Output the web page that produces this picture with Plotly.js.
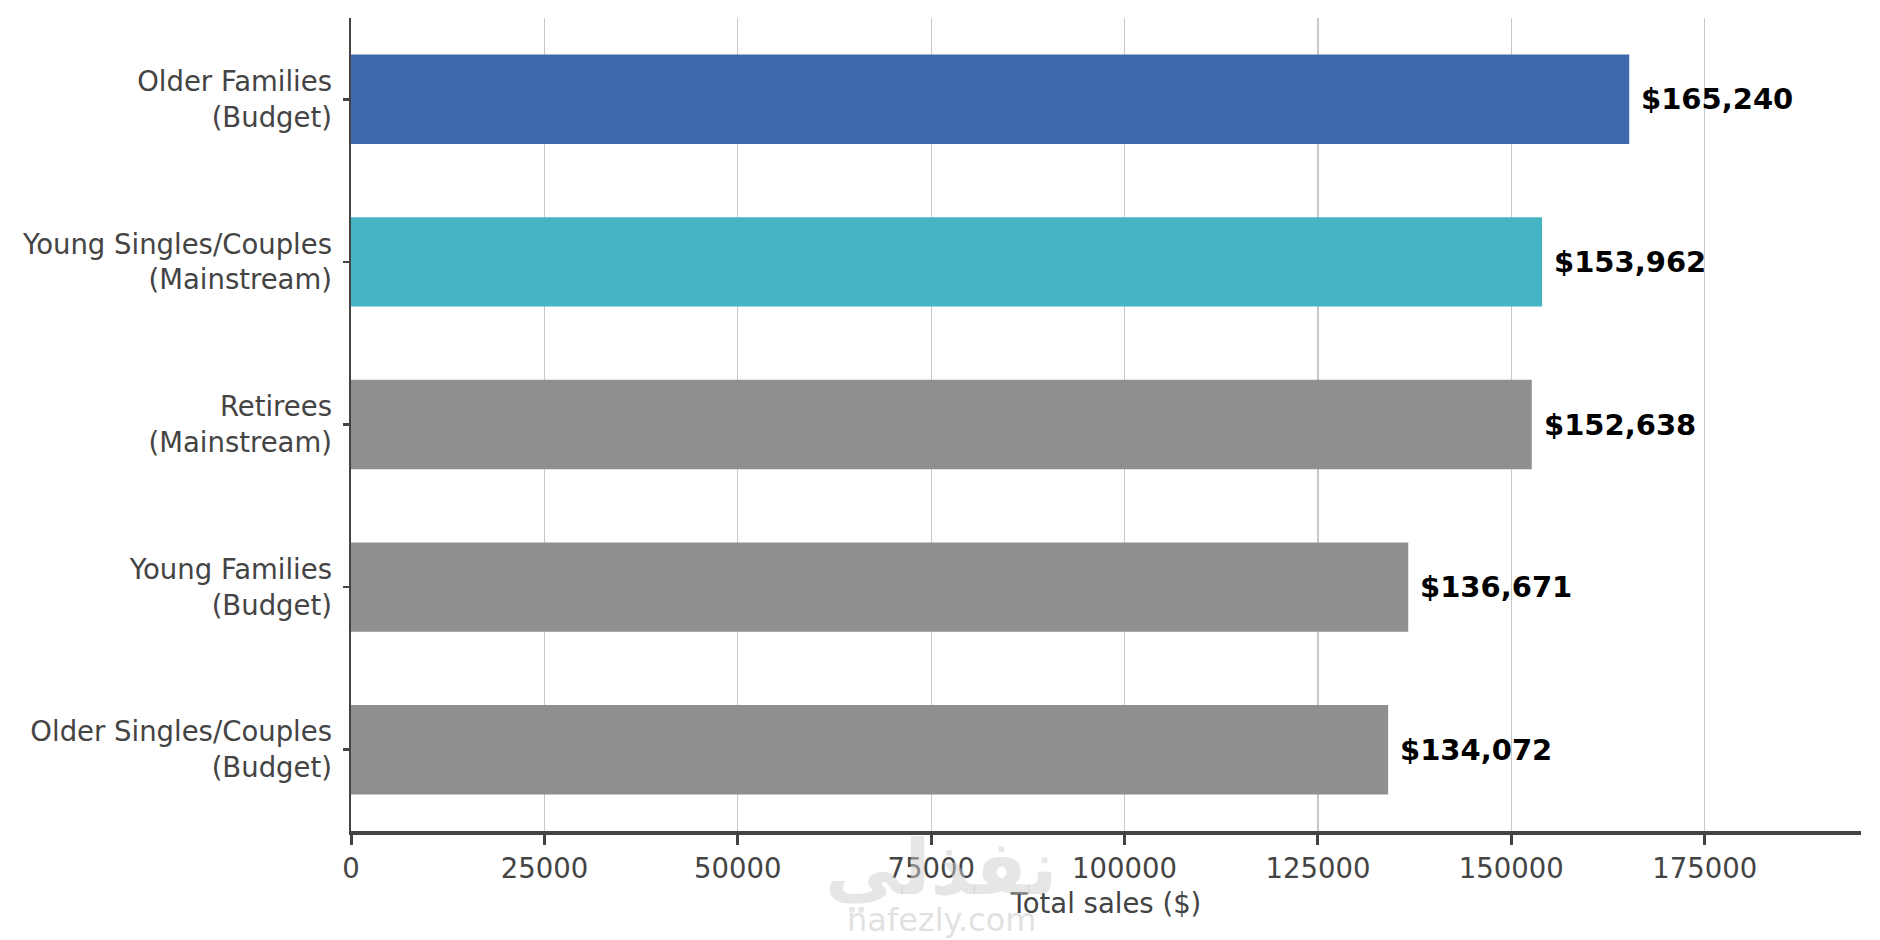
<!DOCTYPE html>
<html>
<head>
<meta charset="utf-8">
<script src="https://cdn.plot.ly/plotly-3.0.1.min.js"></script>
<style>
  html, body { margin: 0; padding: 0; background: #fff; }
  #myDiv { width: 1880px; height: 940px; }
</style>
</head>
<body>
<div id="myDiv"></div>
<script>
// segments, top to bottom
var segments = [
	'Older Families<br>(Budget)',
	'Young Singles/Couples<br>(Mainstream)',
	'Retirees<br>(Mainstream)',
	'Young Families<br>(Budget)',
	'Older Singles/Couples<br>(Budget)'
];
var totalSales = [165240, 153962, 152638, 136671, 134072];
var barColors = ['#3f69ac', '#45b5c3', '#8f8f8d', '#8f8f8d', '#8f8f8d'];
var xTicks = [0, 25000, 50000, 75000, 100000, 125000, 150000, 175000];

var labelFont = {family: 'DejaVu Sans', size: 27.5, color: '#444444'};

var trace = {
	type: 'bar',
	orientation: 'h',
	y: segments,
	x: totalSales,
	width: 0.55,
	marker: {color: barColors, line: {width: 0}},
	hoverinfo: 'none'
};

// value labels at the end of each bar
var annotations = totalSales.map(function (v, i) {
	return {
		x: v, y: segments[i], xref: 'x', yref: 'y',
		text: '<b>$' + v.toLocaleString('en-US') + '</b>',
		showarrow: false, xanchor: 'left', yanchor: 'middle', xshift: 10,
		font: {family: 'DejaVu Sans', size: 29, color: '#000000'}
	};
});

// watermark
annotations.push({
	x: 0.391, y: -0.045, xref: 'paper', yref: 'paper',
	text: '<b>نفذلي</b>', showarrow: false, xanchor: 'center', yanchor: 'middle',
	font: {family: 'DejaVu Sans', size: 76, color: 'rgba(205,205,205,0.5)'}
});
annotations.push({
	x: 0.391, y: -0.1095, xref: 'paper', yref: 'paper',
	text: 'nafezly.com', showarrow: false, xanchor: 'center', yanchor: 'middle',
	font: {family: 'DejaVu Sans', size: 32, color: 'rgba(205,205,205,0.6)'}
});

var layout = {
	width: 1880,
	height: 940,
	margin: {l: 351, r: 19, t: 18, b: 109},
	paper_bgcolor: '#ffffff',
	plot_bgcolor: '#ffffff',
	showlegend: false,
	font: labelFont,
	xaxis: {
		range: [0, 195200],
		tickvals: xTicks,
		tickformat: 'd',
		showgrid: true,
		gridcolor: '#c8c8c8',
		gridwidth: 1.3,
		zeroline: false,
		showline: true,
		linecolor: '#444444',
		linewidth: 3.5,
		ticks: 'outside',
		ticklen: 10,
		tickwidth: 3,
		tickcolor: '#444444',
		tickfont: labelFont,
		automargin: false,
		title: {text: 'Total sales ($)', font: labelFont, standoff: 12}
	},
	yaxis: {
		autorange: 'reversed',
		showgrid: false,
		zeroline: false,
		showline: true,
		linecolor: '#444444',
		linewidth: 2.5,
		ticks: 'outside',
		ticklen: 6,
		tickwidth: 2.5,
		tickcolor: '#444444',
		tickfont: labelFont,
		ticklabelstandoff: 5,
		automargin: false
	},
	annotations: annotations
};

Plotly.newPlot('myDiv', [trace], layout, {displayModeBar: false, staticPlot: true});
</script>
</body>
</html>
